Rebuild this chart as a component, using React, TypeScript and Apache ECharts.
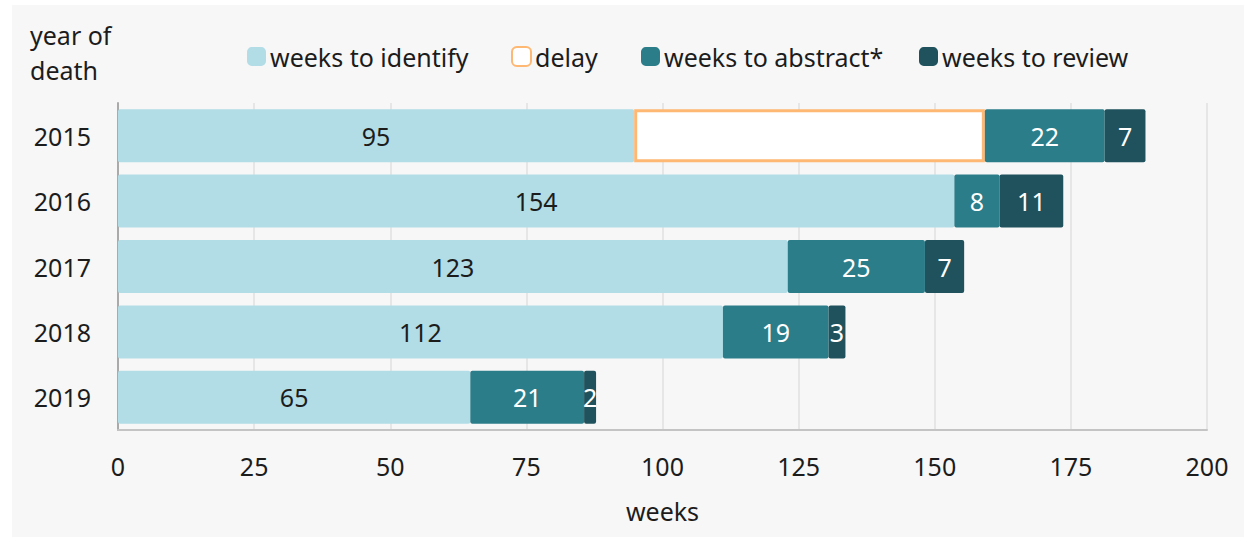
import React, { useEffect, useRef } from "react";
import * as echarts from "echarts";

const years = ["2015", "2016", "2017", "2018", "2019"];
// bar lengths (weeks)
const identify = [94.8, 153.6, 123.0, 111.1, 64.7];
const delay: (number | string)[] = [64.4, "-", "-", "-", "-"];
const abstract = [22.0, 8.3, 25.2, 19.4, 20.9];
const review = [7.5, 11.7, 7.2, 3.1, 2.2];
// numbers printed on the bars
const identifyLabels = ["95", "154", "123", "112", "65"];
const abstractLabels = ["22", "8", "25", "19", "21"];
const reviewLabels = ["7", "11", "7", "3", "2"];
const xTicks = [0, 25, 50, 75, 100, 125, 150, 175, 200];

const FONT = "'Noto Sans', 'DejaVu Sans', sans-serif";
const TXT = "#1c1c1c";
const FS = 25;

export default function App() {
  const ref = useRef<HTMLDivElement>(null);
  useEffect(() => {
    if (!ref.current) return;
    const chart = echarts.init(ref.current, undefined, { renderer: "svg" });
    const legendItem = (name: string, left: number) => ({
      data: [name],
      left,
      top: 44,
      itemWidth: 19,
      itemHeight: 19,
      itemGap: 0,
      padding: 0,
      textStyle: { fontFamily: FONT, fontSize: FS, color: TXT, padding: [0, 0, 0, -1] },
    });
    const lbl = (color: string, texts: string[]) => ({
      show: true,
      position: "inside" as const,
      color,
      fontFamily: FONT,
      fontSize: FS,
      formatter: (p: any) => texts[p.dataIndex],
    });
    chart.setOption({
      animation: false,
      textStyle: { fontFamily: FONT },
      graphic: [
        {
          type: "rect",
          z: -10,
          silent: true,
          shape: { x: 12, y: 5, width: 1232, height: 532 },
          style: { fill: "#f7f7f7" },
        },
        {
          type: "text",
          left: 30,
          top: 17,
          style: {
            text: "year of\ndeath",
            fontFamily: FONT,
            fontSize: FS,
            lineHeight: 35,
            fill: TXT,
          },
        },
      ],
      legend: [
        legendItem("weeks to identify", 247),
        legendItem("delay", 511),
        legendItem("weeks to abstract*", 641),
        legendItem("weeks to review", 919),
      ],
      grid: { left: 118, right: 49, top: 103, bottom: 109, containLabel: false },
      xAxis: {
        type: "value",
        min: xTicks[0],
        max: xTicks[xTicks.length - 1],
        interval: 25,
        name: "weeks",
        nameLocation: "middle",
        nameGap: 68,
        nameTextStyle: { fontFamily: FONT, fontSize: FS, color: TXT },
        axisLine: { show: true, lineStyle: { color: "#c4c4c4", width: 2 } },
        axisTick: { show: false },
        axisLabel: { fontFamily: FONT, fontSize: FS, color: TXT, margin: 23 },
        splitLine: { show: true, lineStyle: { color: "#e0e0e0", width: 1.5 } },
      },
      yAxis: {
        type: "category",
        data: years,
        inverse: true,
        axisLine: { show: true, lineStyle: { color: "#aaaaaa", width: 2 } },
        axisTick: { show: false },
        axisLabel: { fontFamily: FONT, fontSize: FS, color: TXT, margin: 27 },
        splitLine: { show: false },
      },
      series: [
        {
          name: "weeks to identify",
          type: "bar",
          stack: "t",
          barWidth: 53,
          data: identify,
          itemStyle: { color: "#b2dde6", borderRadius: 2 },
          label: lbl(TXT, identifyLabels),
        },
        {
          name: "delay",
          type: "bar",
          stack: "t",
          barWidth: 53,
          data: delay,
          itemStyle: { color: "#ffffff", borderColor: "#ffb873", borderWidth: 3 },
          label: { show: false },
        },
        {
          name: "weeks to abstract*",
          type: "bar",
          stack: "t",
          barWidth: 53,
          data: abstract,
          itemStyle: { color: "#2c7d8a", borderRadius: 2 },
          label: lbl("#ffffff", abstractLabels),
        },
        {
          name: "weeks to review",
          type: "bar",
          stack: "t",
          barWidth: 53,
          data: review,
          itemStyle: { color: "#1f525c", borderRadius: 2 },
          label: lbl("#ffffff", reviewLabels),
        },
      ],
    });
    return () => chart.dispose();
  }, []);
  return (
    <div
      ref={ref}
      style={{ position: "absolute", left: 0, top: 0, width: 1256, height: 539, background: "#ffffff" }}
    />
  );
}
